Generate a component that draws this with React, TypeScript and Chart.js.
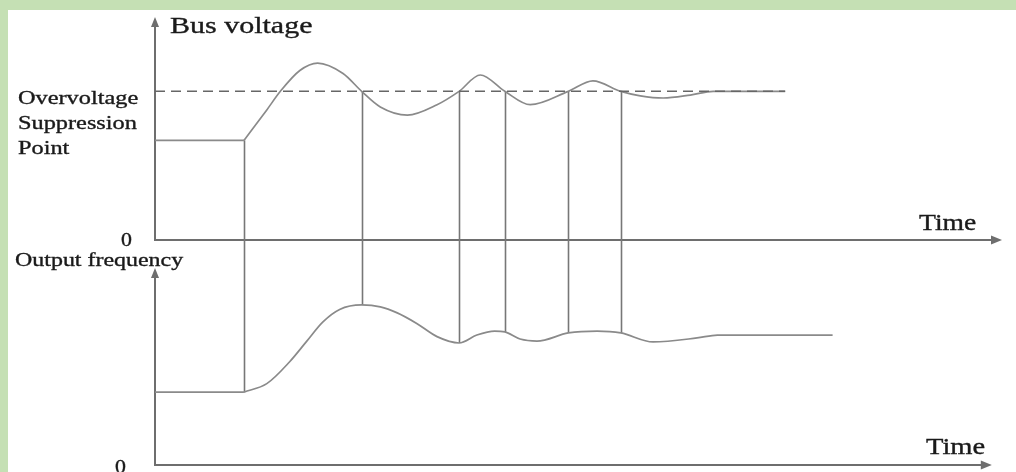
import { useEffect, useRef } from "react";
import { Chart, registerables } from "chart.js";

Chart.register(...registerables);

// ---- data (time in arbitrary units, bus voltage in % of suppression point, frequency in Hz-like units)
const busLevelTimes = [0, 10.5];
const busLevelValues = [67, 67];
const busCurveTimes = [10.5, 13.2, 14.8, 17.1, 19.2, 22.2, 24.4, 26.6, 29.8, 33.3, 35.9, 38.4, 41.3, 44.3, 48.8, 51.7, 55.0, 57.3, 60.0, 63.2, 65.9, 74.4];
const busCurveValues = [67, 87.5, 100, 114, 119, 112, 100, 89.5, 84, 91, 100, 111, 100, 91, 100, 107, 100, 97, 95.5, 97.5, 100, 100];
const suppressionTimes = [0, 74.4];
const suppressionValues = [100, 100];
const freqLevelTimes = [0, 10.5];
const freqLevelValues = [28, 28];
const freqCurveTimes = [10.5, 13.2, 15.9, 17.9, 19.8, 21.8, 24.4, 26.6, 28.6, 30.9, 33.3, 35.9, 38.0, 40.1, 41.3, 43.1, 45.1, 48.8, 52.2, 55.0, 58.8, 64.0, 66.4, 80.0];
const freqCurveValues = [28, 31.2, 39.5, 47.2, 54.5, 59.3, 61, 60.3, 58.0, 54.0, 49.0, 46.6, 49.6, 51.1, 50.8, 48.1, 47.3, 50.4, 51.1, 50.4, 47, 48.5, 49.6, 49.6];
const eventTimes = [10.5, 24.4, 35.9, 41.3, 48.8, 55.0];
const eventBusValues = [67, 100, 100, 100, 100, 100];
const eventFreqValues = [28, 61, 46.6, 50.8, 50.4, 50.4];

const busAxisMax = 150;
const freqAxisMax = 75;
const busTimeAxisMax = 100;
const freqTimeAxisMax = 98.8;

const busTitle = "Bus voltage";
const suppressionLabel = ["Overvoltage", "Suppression", "Point"];
const freqTitle = "Output frequency";
const timeLabel = "Time";
const zeroLabel = "0";

// ---- layout
const W = 1016;
const H = 472;
const PLOT_LEFT = 155;
const PLOT_RIGHT = 1002;
const PLOT_TOP = 17;
const PLOT_BOTTOM = 466;
const BUS_ZERO_Y = 240;
const FREQ_TOP_Y = 268;

const busPxPerUnit = (BUS_ZERO_Y - PLOT_TOP) / busAxisMax;
const busMin = -(PLOT_BOTTOM - BUS_ZERO_Y) / busPxPerUnit;
const freqPxPerUnit = (PLOT_BOTTOM - FREQ_TOP_Y) / freqAxisMax;
const freqMax = (PLOT_BOTTOM - PLOT_TOP) / freqPxPerUnit;

const zip = (xs: number[], ys: number[]) => xs.map((x, i) => ({ x, y: ys[i] }));

const AXIS_COLOR = "#6e6e6e";
const CURVE_COLOR = "#8a8a8a";
const TEXT_COLOR = "#1a1a1a";
const FONT = '"Liberation Serif", "Times New Roman", serif';

function drawText(ctx: CanvasRenderingContext2D, text: string, x: number, y: number, size: number, sx: number) {
  ctx.save();
  ctx.translate(x, y);
  ctx.scale(sx, 1);
  ctx.font = `${size}px ${FONT}`;
  ctx.fillStyle = TEXT_COLOR;
  ctx.strokeStyle = TEXT_COLOR;
  ctx.lineWidth = 0.35;
  ctx.textBaseline = "alphabetic";
  ctx.textAlign = "left";
  ctx.fillText(text, 0, 0);
  ctx.strokeText(text, 0, 0);
  ctx.restore();
}

const diagramPlugin = {
  id: "diagram",
  beforeDatasetsDraw(chart: any) {
    const ctx: CanvasRenderingContext2D = chart.ctx;
    const xs = chart.scales.x;
    const yb = chart.scales.yBus;
    const yf = chart.scales.yFreq;
    const x0 = xs.getPixelForValue(0);

    ctx.save();
    ctx.strokeStyle = AXIS_COLOR;
    ctx.fillStyle = AXIS_COLOR;
    ctx.lineWidth = 2;

    // bus voltage axes
    const busTop = yb.getPixelForValue(busAxisMax);
    const busZero = yb.getPixelForValue(0);
    const busRight = xs.getPixelForValue(busTimeAxisMax);
    ctx.beginPath();
    ctx.moveTo(x0, busTop + 8);
    ctx.lineTo(x0, busZero);
    ctx.lineTo(busRight - 8, busZero);
    ctx.stroke();
    ctx.beginPath();
    ctx.moveTo(x0, busTop);
    ctx.lineTo(x0 - 4, busTop + 10);
    ctx.lineTo(x0 + 4, busTop + 10);
    ctx.closePath();
    ctx.fill();
    ctx.beginPath();
    ctx.moveTo(busRight, busZero);
    ctx.lineTo(busRight - 11, busZero - 4.5);
    ctx.lineTo(busRight - 11, busZero + 4.5);
    ctx.closePath();
    ctx.fill();

    // frequency axes
    const fTop = yf.getPixelForValue(freqAxisMax);
    const fZero = yf.getPixelForValue(0);
    const fRight = xs.getPixelForValue(freqTimeAxisMax);
    ctx.beginPath();
    ctx.moveTo(x0, fTop + 8);
    ctx.lineTo(x0, fZero - 1);
    ctx.lineTo(fRight - 8, fZero - 1);
    ctx.stroke();
    ctx.beginPath();
    ctx.moveTo(x0, fTop);
    ctx.lineTo(x0 - 4, fTop + 10);
    ctx.lineTo(x0 + 4, fTop + 10);
    ctx.closePath();
    ctx.fill();
    ctx.beginPath();
    ctx.moveTo(fRight, fZero - 1);
    ctx.lineTo(fRight - 11, fZero - 5.5);
    ctx.lineTo(fRight - 11, fZero + 3.5);
    ctx.closePath();
    ctx.fill();

    // event vertical lines
    ctx.strokeStyle = "#777777";
    ctx.lineWidth = 1.6;
    eventTimes.forEach((t, i) => {
      const px = Math.round(xs.getPixelForValue(t)) + 0.5;
      ctx.beginPath();
      ctx.moveTo(px, yb.getPixelForValue(eventBusValues[i]));
      ctx.lineTo(px, yf.getPixelForValue(eventFreqValues[i]));
      ctx.stroke();
    });
    ctx.restore();

    // texts
    drawText(ctx, busTitle, x0 + 15, busTop + 16, 24, 1.25);
    suppressionLabel.forEach((s, i) => drawText(ctx, s, 18, yb.getPixelForValue(suppressionValues[0]) + 13 + i * 25, 19, 1.28));
    drawText(ctx, zeroLabel, 121, busZero + 6, 19, 1.15);
    drawText(ctx, timeLabel, 919, busZero - 10, 23, 1.2);
    drawText(ctx, freqTitle, 15, fTop - 2, 19, 1.26);
    drawText(ctx, zeroLabel, 115, fZero + 7, 19, 1.15);
    drawText(ctx, timeLabel, 926, fZero - 12, 23, 1.24);
  },
};

export default function App() {
  const ref = useRef<HTMLCanvasElement | null>(null);

  useEffect(() => {
    if (!ref.current) return;
    const common = { pointRadius: 0, borderColor: CURVE_COLOR, borderWidth: 1.7, showLine: true, fill: false };
    const chart = new Chart(ref.current, {
      type: "scatter",
      data: {
        datasets: [
          { ...common, data: zip(suppressionTimes, suppressionValues), yAxisID: "yBus", borderColor: "#666666", borderWidth: 1.5, borderDash: [10, 6], tension: 0 },
          { ...common, data: zip(busLevelTimes, busLevelValues), yAxisID: "yBus", tension: 0 },
          { ...common, data: zip(busCurveTimes, busCurveValues), yAxisID: "yBus", cubicInterpolationMode: "monotone" },
          { ...common, data: zip(freqLevelTimes, freqLevelValues), yAxisID: "yFreq", tension: 0 },
          { ...common, data: zip(freqCurveTimes, freqCurveValues), yAxisID: "yFreq", cubicInterpolationMode: "monotone" },
        ] as any,
      },
      options: {
        animation: false,
        responsive: false,
        devicePixelRatio: 1,
        layout: { padding: { left: PLOT_LEFT, right: W - PLOT_RIGHT, top: PLOT_TOP, bottom: H - PLOT_BOTTOM } },
        plugins: { legend: { display: false }, tooltip: { enabled: false } },
        scales: {
          x: { type: "linear", display: false, min: 0, max: busTimeAxisMax },
          yBus: { type: "linear", display: false, min: busMin, max: busAxisMax },
          yFreq: { type: "linear", display: false, min: 0, max: freqMax },
        },
      } as any,
      plugins: [diagramPlugin],
    });
    return () => chart.destroy();
  }, []);

  return (
    <div style={{ position: "fixed", left: 0, top: 0, width: W, height: H, background: "#c5e0b4", overflow: "hidden" }}>
      <div style={{ position: "absolute", left: 8, top: 10, right: 0, bottom: 0, background: "#ffffff" }} />
      <canvas ref={ref} width={W} height={H} style={{ position: "absolute", left: 0, top: 0, width: W, height: H }} />
    </div>
  );
}
